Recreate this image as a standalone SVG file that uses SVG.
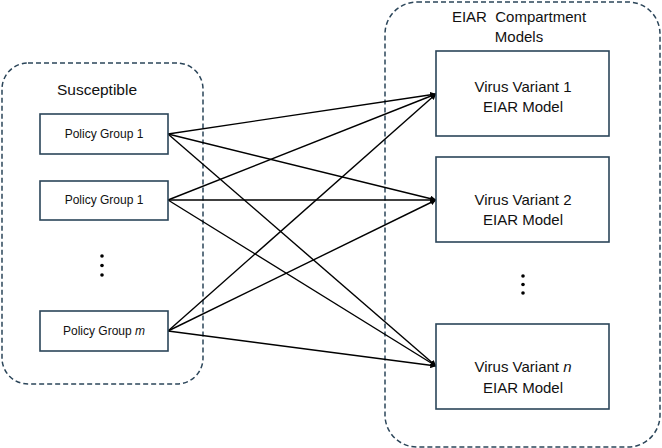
<svg xmlns="http://www.w3.org/2000/svg" width="662" height="448" viewBox="0 0 662 448">
<defs>
<style>
.container{fill:none;stroke:#2b4559;stroke-width:1.5;stroke-dasharray:5 3}
.box{fill:#fff;stroke:#2b4559;stroke-width:1.6}
.t{font-family:"Liberation Sans",Arial,sans-serif;fill:#111;text-anchor:middle}
.s{font-size:12px}
.m{font-size:15px}
.conn line{stroke:#000;stroke-width:1.4;marker-end:url(#arr)}
</style>
<marker id="arr" viewBox="0 0 10 10" refX="9.5" refY="5" markerWidth="6" markerHeight="6" markerUnits="userSpaceOnUse" orient="auto">
<path d="M0,0 L10,5 L0,10 z" fill="#000"/>
</marker>
</defs>
<rect fill="#fff" width="662" height="448"/>
<g id="susceptible-container">
<rect class="container" x="2" y="63" width="201" height="321" rx="26"/>
<text class="t" x="97" y="95" style="font-size:15.5px">Susceptible</text>
</g>
<g id="eiar-container">
<rect class="container" x="385" y="2" width="275" height="445" rx="32"/>
<text class="t m" x="519" y="22">EIAR&#160; Compartment</text>
<text class="t m" x="519" y="42">Models</text>
</g>
<g class="conn" id="connectors">
<line x1="168" y1="134" x2="436" y2="94"/>
<line x1="168" y1="134" x2="436" y2="200"/>
<line x1="168" y1="134" x2="436" y2="366"/>
<line x1="168" y1="200" x2="436" y2="94"/>
<line x1="168" y1="200" x2="436" y2="200"/>
<line x1="168" y1="200" x2="436" y2="366"/>
<line x1="168" y1="331" x2="436" y2="94"/>
<line x1="168" y1="331" x2="436" y2="200"/>
<line x1="168" y1="331" x2="436" y2="366"/>
</g>
<g id="policy-group-1a">
<rect class="box" x="40" y="114" width="128" height="40"/>
<text class="t s" x="104" y="138">Policy Group 1</text>
</g>
<g id="policy-group-1b">
<rect class="box" x="40" y="181" width="128" height="39"/>
<text class="t s" x="104" y="204">Policy Group 1</text>
</g>
<g id="left-dots" fill="#000">
<circle cx="102" cy="256" r="1.8"/>
<circle cx="102" cy="265.5" r="1.8"/>
<circle cx="102" cy="275" r="1.8"/>
</g>
<g id="policy-group-m">
<rect class="box" x="40" y="311" width="128" height="40"/>
<text class="t s" x="104" y="335">Policy Group <tspan font-style="italic">m</tspan></text>
</g>
<g id="virus-variant-1">
<rect class="box" x="436" y="51" width="173" height="85"/>
<text class="t m" x="523" y="92">Virus Variant 1</text>
<text class="t m" x="523" y="112">EIAR Model</text>
</g>
<g id="virus-variant-2">
<rect class="box" x="436" y="157" width="173" height="85"/>
<text class="t m" x="523" y="205">Virus Variant 2</text>
<text class="t m" x="523" y="225">EIAR Model</text>
</g>
<g id="right-dots" fill="#000">
<circle cx="523" cy="276" r="1.8"/>
<circle cx="523" cy="284.5" r="1.8"/>
<circle cx="523" cy="293" r="1.8"/>
</g>
<g id="virus-variant-n">
<rect class="box" x="436" y="324" width="173" height="85"/>
<text class="t m" x="523" y="372">Virus Variant <tspan font-style="italic">n</tspan></text>
<text class="t m" x="523" y="393">EIAR Model</text>
</g>
</svg>
